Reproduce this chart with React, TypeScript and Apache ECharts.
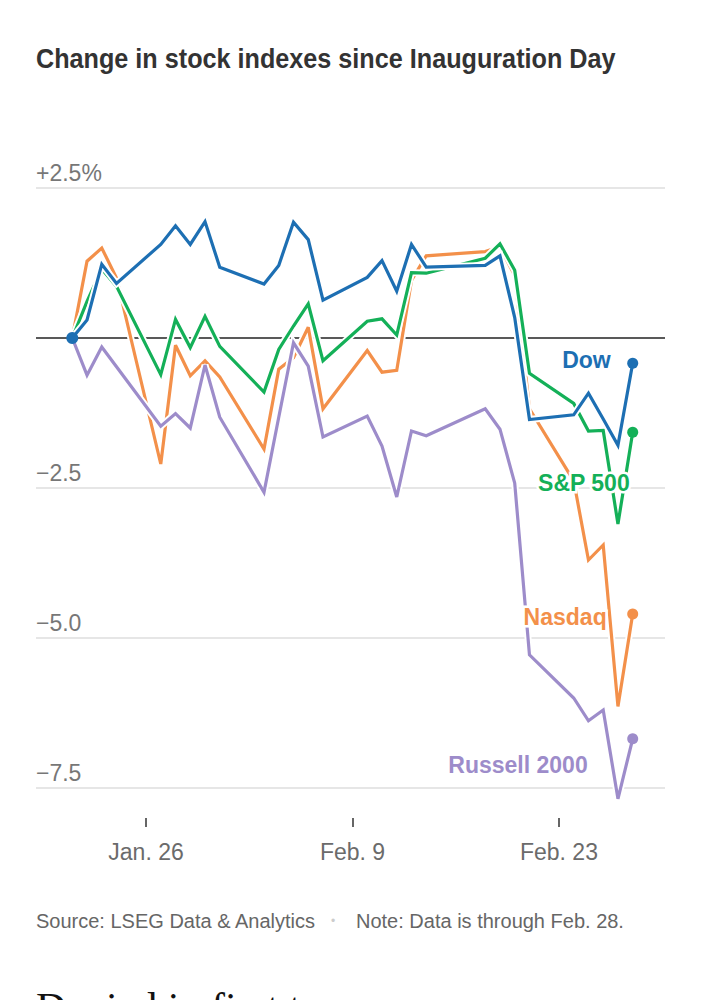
import React, { useEffect, useRef } from "react";
import * as echarts from "echarts";

// ---- data ----
const DATES = [
  "2025-01-21", "2025-01-22", "2025-01-23", "2025-01-24",
  "2025-01-27", "2025-01-28", "2025-01-29", "2025-01-30", "2025-01-31",
  "2025-02-03", "2025-02-04", "2025-02-05", "2025-02-06", "2025-02-07",
  "2025-02-10", "2025-02-11", "2025-02-12", "2025-02-13", "2025-02-14",
  "2025-02-18", "2025-02-19", "2025-02-20", "2025-02-21",
  "2025-02-24", "2025-02-25", "2025-02-26", "2025-02-27", "2025-02-28",
];
const DOW = [0, 0.3, 1.23, 0.91, 1.56, 1.87, 1.56, 1.94, 1.18, 0.9, 1.21, 1.93, 1.64, 0.63, 1.01, 1.29, 0.78, 1.56, 1.18, 1.21, 1.37, 0.34, -1.36, -1.28, -0.92, -1.35, -1.79, -0.42];
const SP500 = [0, 0.61, 1.15, 0.86, -0.61, 0.31, -0.16, 0.36, -0.14, -0.9, -0.19, 0.2, 0.57, -0.38, 0.28, 0.32, 0.05, 1.09, 1.08, 1.33, 1.57, 1.13, -0.59, -1.09, -1.55, -1.54, -3.1, -1.57];
const NASDAQ = [0, 1.28, 1.5, 1.0, -2.1, -0.12, -0.63, -0.38, -0.65, -1.85, -0.52, -0.33, 0.18, -1.18, -0.21, -0.57, -0.54, 0.96, 1.37, 1.44, 1.52, 1.04, -1.18, -2.38, -3.7, -3.45, -6.14, -4.6];
const RUSSELL = [0, -0.62, -0.15, -0.48, -1.47, -1.26, -1.5, -0.45, -1.32, -2.57, -1.32, -0.08, -0.47, -1.65, -1.3, -1.8, -2.65, -1.55, -1.63, -1.18, -1.52, -2.42, -5.28, -6.0, -6.38, -6.2, -7.68, -6.68];

const SERIES_NAMES = ["Nasdaq", "Russell 2000", "S&P 500", "Dow"]; // drawing order, bottom to top
const SERIES_VALUES = [NASDAQ, RUSSELL, SP500, DOW];

const X_TICK_DATES = ["2025-01-26", "2025-02-09", "2025-02-23"];
const X_TICK_LABELS = ["Jan. 26", "Feb. 9", "Feb. 23"];
const Y_TICKS = [2.5, 0, -2.5, -5, -7.5];
const Y_TICK_LABELS = ["+2.5%", "", "\u22122.5", "\u22125.0", "\u22127.5"];

const TITLE = "Change in stock indexes since Inauguration Day";
const SOURCE = "Source: LSEG Data & Analytics";
const NOTE = "Note: Data is through Feb. 28.";

// ---- styles ----
const COLORS: Record<string, string> = {
  Dow: "#1d6fb3",
  "S&P 500": "#14b058",
  Nasdaq: "#f3904a",
  "Russell 2000": "#9d8cca",
};
const LABEL_OFFSETS: Record<string, number[]> = {
  Dow: [-16.5, -3],
  "S&P 500": [2.5, 51],
  Nasdaq: [-20.5, 3],
  "Russell 2000": [-39.5, 26],
};

const SANS = '"Liberation Sans", Arial, sans-serif';
const DAY = 86400000;

function ts(s: string) {
  const [y, m, d] = s.split("-").map(Number);
  return Date.UTC(y, m - 1, d);
}

export default function App() {
  const ref = useRef<HTMLDivElement>(null);

  useEffect(() => {
    document.body.style.margin = "0";
    if (!ref.current) return;
    const chart = echarts.init(ref.current, null, { renderer: "svg" });
    const times = DATES.map(ts);
    const tickTimes = X_TICK_DATES.map(ts);

    const series: any[] = [];
    SERIES_NAMES.forEach((name, i) => {
      const data = times.map((t, j) => [t, SERIES_VALUES[i][j]]);
      series.push({
        type: "line",
        name: name + "-halo",
        data,
        showSymbol: false,
        clip: false,
        silent: true,
        lineStyle: { color: "#ffffff", width: 7, join: "miter", miterLimit: 3 },
        emphasis: { disabled: true },
      });
      series.push({
        type: "line",
        name,
        data,
        showSymbol: false,
        clip: false,
        silent: true,
        lineStyle: { color: COLORS[name], width: 3.2, join: "miter", miterLimit: 3 },
        emphasis: { disabled: true },
      });
    });
    SERIES_NAMES.forEach((name, i) => {
      const vals = SERIES_VALUES[i];
      const last = vals.length - 1;
      series.push({
        type: "scatter",
        name: name + "-end",
        data: [[times[last], vals[last]]],
        symbolSize: 11,
        z: 10,
        silent: true,
        clip: false,
        itemStyle: { color: COLORS[name], opacity: 1 },
        label: {
          show: true,
          formatter: name,
          position: "left",
          distance: 0,
          offset: LABEL_OFFSETS[name],
          fontFamily: SANS,
          fontWeight: "bold",
          fontSize: 23,
          color: COLORS[name],
          textBorderColor: "#ffffff",
          textBorderWidth: 5,
        },
      });
    });
    const dowIdx = SERIES_NAMES.indexOf("Dow");
    series.push({
      type: "scatter",
      name: "start",
      data: [[times[0], SERIES_VALUES[dowIdx][0]]],
      symbolSize: 12,
      z: 11,
      silent: true,
      itemStyle: { color: COLORS.Dow, opacity: 1 },
    });

    chart.setOption({
      animation: false,
      backgroundColor: "#ffffff",
      grid: { left: 36, right: 37, top: 188, bottom: 187, containLabel: false, outerBoundsMode: "none" },
      xAxis: {
        type: "value",
        min: tickTimes[0] - 7.46 * DAY,
        max: tickTimes[2] + 7.19 * DAY,
        position: "bottom",
        offset: 30,
        axisLine: { show: false, onZero: false },
        splitLine: { show: false },
        axisTick: {
          show: true,
          customValues: tickTimes,
          length: 9,
          lineStyle: { color: "#333333", width: 1.5 },
        },
        axisLabel: {
          customValues: tickTimes,
          formatter: (v: number) => {
            const k = tickTimes.indexOf(v);
            return k >= 0 ? X_TICK_LABELS[k] : "";
          },
          margin: 22,
          fontFamily: SANS,
          fontSize: 23,
          color: "#6b6b6b",
        },
      },
      yAxis: {
        type: "value",
        min: -7.5,
        max: 2.5,
        interval: 2.5,
        axisLine: { show: false },
        axisTick: { show: false },
        axisLabel: {
          inside: true,
          margin: 0,
          align: "left",
          verticalAlign: "bottom",
          lineHeight: 31,
          fontFamily: SANS,
          fontSize: 23,
          color: "#777777",
          formatter: (v: number) => {
            const k = Y_TICKS.findIndex((t) => Math.abs(t - v) < 1e-6);
            return k >= 0 ? Y_TICK_LABELS[k] : "";
          },
        },
        splitLine: {
          show: true,
          lineStyle: {
            color: ["#dedede", "#dedede", "#dedede", "#222222", "#dedede"],
            width: 1.5,
          },
        },
      },
      graphic: [
        {
          type: "text",
          x: 36,
          y: 59,
          scaleX: 0.9,
          style: {
            text: TITLE,
            fontFamily: SANS,
            fontWeight: "bold",
            fontSize: 28,
            fill: "#333333",
            verticalAlign: "middle",
            align: "left",
          },
        },
        {
          type: "text",
          x: 36,
          y: 921,
          style: { text: SOURCE, fontFamily: SANS, fontSize: 20, fill: "#666666", verticalAlign: "middle" },
        },
        {
          type: "text",
          x: 333,
          y: 921,
          style: { text: "\u2022", fontFamily: SANS, fontSize: 12, fill: "#cccccc", verticalAlign: "middle", align: "center" },
        },
        {
          type: "text",
          x: 356,
          y: 921,
          style: { text: NOTE, fontFamily: SANS, fontSize: 20, fill: "#666666", verticalAlign: "middle" },
        },
      ],
      series,
    });
    return () => chart.dispose();
  }, []);

  return (
    <div style={{ position: "relative", width: 702, height: 1000, overflow: "hidden" }}>
      <div ref={ref} style={{ width: 702, height: 975 }} />
      <div
        style={{
          position: "absolute",
          left: 36,
          top: 987,
          fontFamily: '"Liberation Serif", "DejaVu Serif", serif',
          fontSize: 42,
          lineHeight: "42px",
          color: "#121212",
          whiteSpace: "nowrap",
        }}
      >
        Denied in first t
      </div>
    </div>
  );
}
